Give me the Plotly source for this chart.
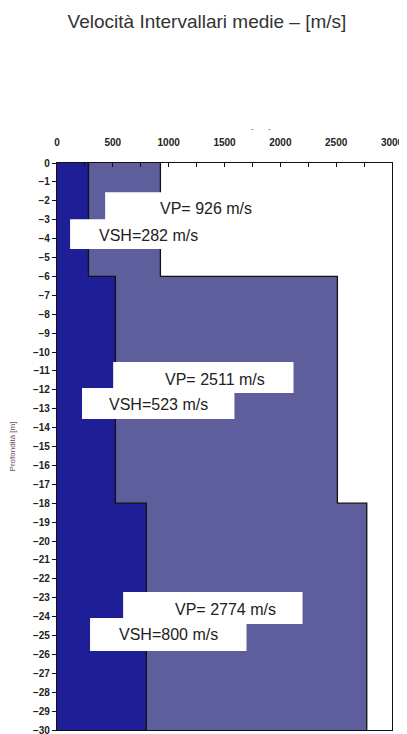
import plotly.graph_objects as go

# ---- data ----
depth_top = [0, 6, 18]
depth_bottom = [6, 18, 30]
vp = [926, 2511, 2774]
vsh = [282, 523, 800]
x_ticks = list(range(0, 3001, 250))
x_labels = [str(v) if v % 500 == 0 else "" for v in x_ticks]
y_ticks = list(range(0, -31, -1))

def step(vals):
    xs, ys = [], []
    for v, t, b in zip(vals, depth_top, depth_bottom):
        xs += [v, v]
        ys += [-t, -b]
    return xs, ys

vp_x, vp_y = step(vp)
vsh_x, vsh_y = step(vsh)

fig = go.Figure()
fig.add_trace(go.Scatter(x=vp_x, y=vp_y, mode="lines", fill="tozerox",
                         fillcolor="#5e5e9c", line=dict(color="#111111", width=1.3),
                         hoverinfo="skip", showlegend=False))
fig.add_trace(go.Scatter(x=vsh_x, y=vsh_y, mode="lines", fill="tozerox",
                         fillcolor="#1e1e96", line=dict(color="#111111", width=1.3),
                         hoverinfo="skip", showlegend=False))

# white label boxes (x in m/s, y in m)
boxes = [
    (431, 2047, -1.55, -3.25),
    (117, 1329, -2.98, -4.55),
    (503, 2118, -10.53, -12.17),
    (224, 1589, -11.90, -13.54),
    (592, 2199, -22.70, -24.39),
    (296, 1697, -24.07, -25.82),
]
for x0, x1, y0, y1 in boxes:
    fig.add_shape(type="rect", xref="x", yref="y", x0=x0, x1=x1, y0=y0, y1=y1,
                  fillcolor="white", line=dict(width=0), layer="above")

labels = [
    (f"VP= {vp[0]} m/s", 1338, -2.43),
    (f"VSH={vsh[0]} m/s", 817, -3.81),
    (f"VP= {vp[1]} m/s", 1418, -11.43),
    (f"VSH={vsh[1]} m/s", 907, -12.80),
    (f"VP= {vp[2]} m/s", 1508, -23.60),
    (f"VSH={vsh[2]} m/s", 996, -24.97),
]
for t, x, y in labels:
    fig.add_annotation(text=t, x=x, y=y, xref="x", yref="y", showarrow=False,
                       font=dict(family="Liberation Sans, Arial", size=16, color="#222222"))

fig.add_annotation(text="-       -", xref="paper", yref="paper",
                   x=(261 - 57) / (392 - 57), y=1 + (163 - 128) / (730 - 163),
                   showarrow=False, font=dict(size=8, color="#333"),
                   xanchor="center", yanchor="middle")

# page body has an 8px margin: figure is sized so it ends at the window edge
W, H, OFF = 399, 726, 8
fig.update_layout(
    width=W, height=H,
    margin=dict(l=57 - OFF, r=W + OFF - 392, t=163 - OFF, b=H + OFF - 730, autoexpand=False),
    paper_bgcolor="white", plot_bgcolor="white",
    title=dict(text="Velocità Intervallari medie – [m/s]", xref="container",
               x=(207 - OFF) / W, xanchor="center",
               yref="container", y=1 - (21 - OFF) / H, yanchor="middle",
               font=dict(family="Liberation Sans, Arial", size=19, color="#333333")),
    xaxis=dict(range=[0, 3000], side="top", tickvals=x_ticks, ticktext=x_labels,
               ticks="inside", ticklen=4, tickcolor="#111", showgrid=False, zeroline=False,
               showline=True, linecolor="#111", linewidth=1.3, mirror=True,
               ticklabelstandoff=12, automargin=False, ticklabeloverflow="allow",
               tickfont=dict(family="Liberation Sans, Arial", size=10, color="#222", weight="bold")),
    yaxis=dict(range=[-30, 0], tickvals=y_ticks, ticks="outside", ticklen=4, tickcolor="#111",
               showgrid=False, zeroline=False, showline=True, linecolor="#111", linewidth=1.3,
               mirror=True, automargin=False, ticklabeloverflow="allow",
               tickfont=dict(family="Liberation Sans, Arial", size=10, color="#222", weight="bold"),
               title=dict(text="Profondità [m]", standoff=16,
                          font=dict(family="Liberation Sans, Arial", size=8, color="#6a4a5a"))),
)

fig.write_html("out.html")
